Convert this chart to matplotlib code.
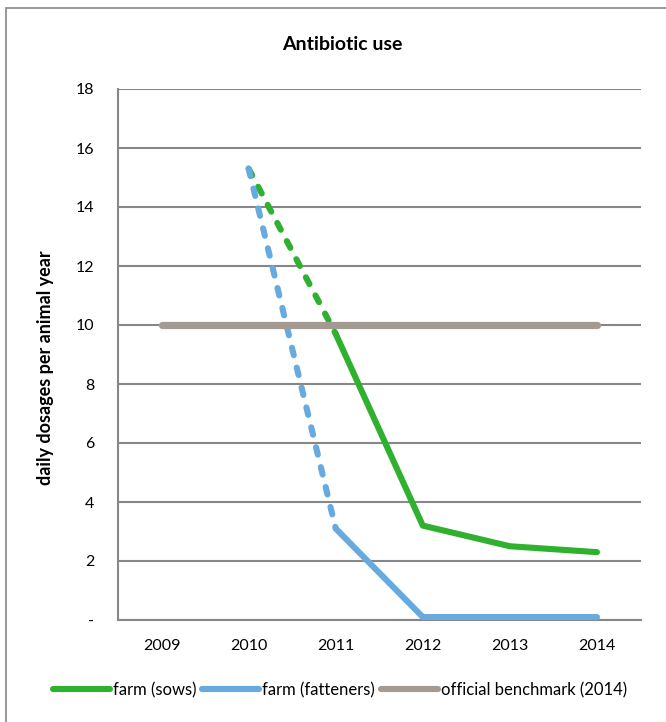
import numpy as np
import matplotlib
matplotlib.use("Agg")
import matplotlib.pyplot as plt
from matplotlib.patches import Rectangle
from matplotlib.lines import Line2D

# ---- data -------------------------------------------------------------
years = ["2009", "2010", "2011", "2012", "2013", "2014"]
sows = [np.nan, 15.3, 9.7, 3.2, 2.5, 2.3]
fatteners = [np.nan, 15.3, 3.1, 0.1, 0.1, 0.1]
benchmark = [10, 10, 10, 10, 10, 10]
y_ticks = [0, 2, 4, 6, 8, 10, 12, 14, 16, 18]
y_tick_labels = ["-", "2", "4", "6", "8", "10", "12", "14", "16", "18"]
series_names = ["farm (sows)", "farm (fatteners)", "official benchmark (2014)"]

# ---- style ------------------------------------------------------------
plt.rcParams["font.family"] = ["Lato", "DejaVu Sans"]
GREEN = "#2FB12F"
BLUE = "#66AAE0"
GREY = "#A39A92"
GRID = "#878787"
W, H, DPI = 666, 722, 100

fig = plt.figure(figsize=(W / DPI, H / DPI), dpi=DPI)

# chart-area border (extends past the right and bottom edges)
fig.patches.append(Rectangle((6 / W, -0.1), 1.2, (H - 8) / H + 0.1,
                             transform=fig.transFigure, fill=False,
                             edgecolor="#909090", linewidth=1.3))

ax = fig.add_axes([118 / W, (H - 620) / H, 522.5 / W, 531 / H])
x = np.arange(len(years))

line_kw = dict(linewidth=4.4, solid_capstyle="round", dash_capstyle="round")
dash = (1.25, 2.1)

# the 2010 -> 2011 interval is drawn dashed, later years solid
ax.plot(x[1:3], sows[1:3], color=GREEN, dashes=dash, **line_kw, zorder=3)
ax.plot(x[2:], sows[2:], color=GREEN, **line_kw, zorder=3)
ax.plot(x[1:3], fatteners[1:3], color=BLUE, dashes=dash, **line_kw, zorder=4)
ax.plot(x[2:], fatteners[2:], color=BLUE, **line_kw, zorder=4)
ax.plot(x, benchmark, color=GREY, linewidth=5.2, solid_capstyle="round", zorder=5)

ax.set_xlim(-0.5, len(years) - 0.5)
ax.set_ylim(0, 18)
ax.set_xticks(x)
ax.set_xticklabels(years)
ax.set_yticks(y_ticks)
ax.set_yticklabels(y_tick_labels)
ax.tick_params(axis="both", length=0, labelsize=11.5, colors="#000000")
ax.tick_params(axis="x", pad=14)
ax.tick_params(axis="y", pad=17)

ax.grid(axis="y", color=GRID, linewidth=1.5, zorder=1)
ax.set_axisbelow(True)
for side in ("top", "right"):
    ax.spines[side].set_visible(False)
for side in ("left", "bottom"):
    ax.spines[side].set_color(GRID)
    ax.spines[side].set_linewidth(1.5)

fig.text(46 / W, 1 - 368 / H, "daily dosages per animal year", rotation=90,
         ha="center", va="center", fontsize=13, fontweight="bold")
fig.text(342 / W, 1 - 44 / H, "Antibiotic use", ha="center", va="center",
         fontsize=14, fontweight="bold")

handles = [Line2D([0], [0], color=c, linewidth=4.4, solid_capstyle="round")
           for c in (GREEN, BLUE, GREY)]
fig.legend(handles, series_names, loc="center", ncol=3, frameon=False,
           bbox_to_anchor=(340 / W, 1 - 690 / H), fontsize=12,
           handlelength=3.4, handletextpad=0.2, columnspacing=0.35,
           borderaxespad=0)

fig.savefig("out.png", dpi=DPI)
